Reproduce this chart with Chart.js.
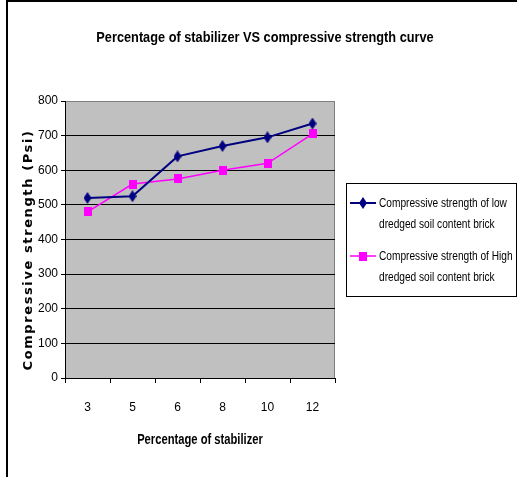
<!DOCTYPE html>
<html>
<head>
<meta charset="utf-8">
<title>Percentage of stabilizer VS compressive strength curve</title>
<script src="https://cdn.jsdelivr.net/npm/chart.js@4.4.0/dist/chart.umd.min.js"></script>
<style>
  html, body { margin: 0; padding: 0; background: #fff; }
  #wrap { position: relative; width: 517px; height: 477px; }
  #wrap canvas { position: absolute; left: 0; top: 0; }
  #frame { position: absolute; left: 6px; top: 0; width: 511px; height: 477px;
           border-left: 2px solid #000; border-top: 2px solid #000; box-sizing: border-box; pointer-events: none; }
</style>
</head>
<body>
<div id="wrap">
  <canvas id="strengthChart" width="517" height="477"></canvas>
  <div id="frame"></div>
</div>
<script>
// data
const stabilizer = ['3', '5', '6', '8', '10', '12'];
const lowDredged = [520, 525, 640, 670, 695, 735];
const highDredged = [480, 560, 575, 600, 620, 705];
const seriesNames = [
  ['Compressive strength of low', 'dredged soil content brick'],
  ['Compressive strength of High', 'dredged soil content brick']
];
const chartTitle = 'Percentage of stabilizer VS compressive strength curve';
const yTitle = 'Compressive strength (Psi)';
const xTitle = 'Percentage of stabilizer';

const sans = '"Liberation Sans", Arial, sans-serif';

// Excel style markers: a tall diamond and a slightly tall square
function makeMarker(kind, color) {
  const c = document.createElement('canvas');
  const g = c.getContext('2d');
  g.fillStyle = color;
  if (kind === 'diamond') {
    c.width = 8; c.height = 12;
    g.fillStyle = color;
    g.beginPath();
    g.moveTo(4, 0); g.lineTo(8, 6); g.lineTo(4, 12); g.lineTo(0, 6);
    g.closePath();
    g.fill();
  } else {
    c.width = 8; c.height = 9;
    g.fillStyle = color;
    g.fillRect(0, 0, 8, 9);
  }
  return c;
}
const diamond = makeMarker('diamond', '#000080');
const square = makeMarker('square', '#ff00ff');

// the original uses a narrow face, so squeeze normal Arial-like text sideways
function narrowText(ctx, text, x, y, font, sx, align) {
  ctx.save();
  ctx.font = font;
  ctx.textAlign = align;
  ctx.textBaseline = 'middle';
  ctx.translate(x, y);
  ctx.scale(sx, 1);
  ctx.fillText(text, 0, 0);
  ctx.restore();
}

// grey plot area + grey top/right border
const plotArea = {
  id: 'plotArea',
  beforeDraw(chart) {
    const { ctx, chartArea: a } = chart;
    ctx.save();
    ctx.fillStyle = '#c0c0c0';
    ctx.fillRect(a.left, a.top, a.right - a.left, a.bottom - a.top);
    ctx.strokeStyle = '#808080';
    ctx.lineWidth = 1;
    ctx.beginPath();
    ctx.moveTo(a.left, a.top + 0.5);
    ctx.lineTo(a.right - 0.5, a.top + 0.5);
    ctx.lineTo(a.right - 0.5, a.bottom);
    ctx.stroke();
    ctx.restore();
  }
};

// titles and the boxed legend on the right
const extras = {
  id: 'extras',
  afterDraw(chart) {
    const ctx = chart.ctx;
    ctx.save();
    ctx.fillStyle = '#000';
    narrowText(ctx, chartTitle, 265, 38, 'bold 15px ' + sans, 0.85, 'center');
    narrowText(ctx, xTitle, 200, 440, 'bold 14px ' + sans, 0.8, 'center');

    ctx.save();
    ctx.translate(29, 250);
    ctx.rotate(-Math.PI / 2);
    ctx.font = 'bold 13px "DejaVu Sans", Verdana, sans-serif';
    ctx.textAlign = 'center';
    ctx.textBaseline = 'middle';
    if ('letterSpacing' in ctx) ctx.letterSpacing = '1.6px';
    ctx.fillText(yTitle, 0, 0);
    ctx.restore();

    // legend
    ctx.strokeStyle = '#000';
    ctx.lineWidth = 1;
    ctx.strokeRect(346.5, 183.5, 170, 113);
    const rows = [203, 256];
    chart.data.datasets.forEach((ds, i) => {
      const y = rows[i];
      ctx.strokeStyle = ds.borderColor;
      ctx.lineWidth = ds.borderWidth;
      ctx.beginPath();
      ctx.moveTo(350, y);
      ctx.lineTo(376, y);
      ctx.stroke();
      Chart.helpers.drawPoint(ctx, { pointStyle: ds.pointStyle, radius: 5, rotation: 0, borderWidth: 0 }, 363, y);
      ctx.fillStyle = '#000';
      seriesNames[i].forEach((line, k) =>
        narrowText(ctx, line, 379, y + k * 21, '13px ' + sans, 0.78, 'left'));
    });
    ctx.restore();
  }
};

const ctx = document.getElementById('strengthChart').getContext('2d');
new Chart(ctx, {
  type: 'line',
  data: {
    labels: stabilizer,
    datasets: [{
      label: seriesNames[0].join(' '),
      data: lowDredged,
      borderColor: '#000080',
      backgroundColor: '#000080',
      pointStyle: diamond,
      pointRadius: 5,
      borderWidth: 2,
      tension: 0
    }, {
      label: seriesNames[1].join(' '),
      data: highDredged,
      borderColor: '#ff00ff',
      backgroundColor: '#ff00ff',
      pointStyle: square,
      pointRadius: 5,
      borderWidth: 1.5,
      tension: 0
    }]
  },
  options: {
    responsive: false,
    animation: false,
    layout: { padding: { top: 101, right: 182, left: 0, bottom: 0 } },
    plugins: {
      legend: { display: false },
      title: { display: false },
      tooltip: { enabled: false }
    },
    scales: {
      x: {
        offset: true,
        grid: { offset: true, drawOnChartArea: false, tickLength: 5, color: '#000', tickColor: '#000' },
        border: { color: '#000', width: 1 },
        ticks: { color: '#000', padding: 17, font: { family: sans, size: 12 } },
        afterFit(scale) { scale.height = 99; }
      },
      y: {
        min: 0,
        max: 800,
        ticks: { stepSize: 100, color: '#000', padding: 3, font: { family: sans, size: 12 } },
        grid: {
          color: c => (c.tick && c.tick.value === 800 ? '#808080' : '#000'),
          tickColor: '#000',
          tickLength: 4
        },
        border: { color: '#000', width: 1 },
        afterFit(scale) { scale.width = 65; }
      }
    }
  },
  plugins: [plotArea, extras]
});
</script>
</body>
</html>
